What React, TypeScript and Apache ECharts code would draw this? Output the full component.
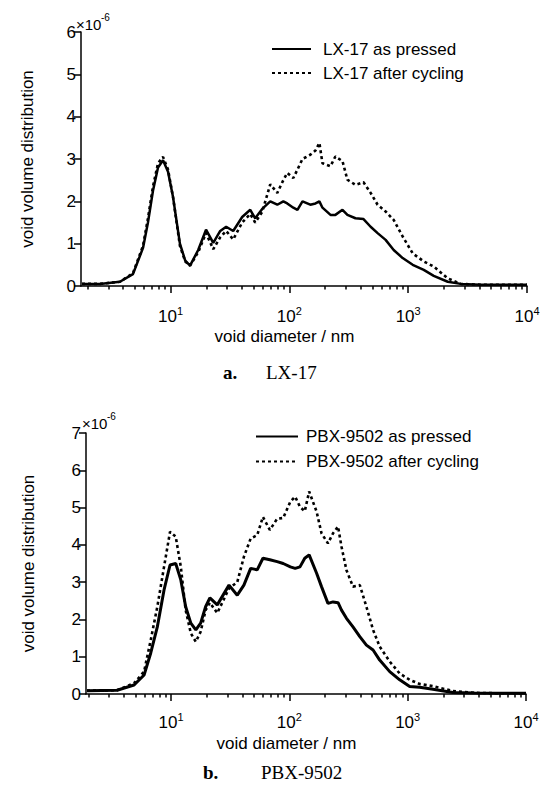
import React, { useEffect, useRef } from "react";
import * as echarts from "echarts";

// ---- data (void diameter in nm, distribution in units of 1e-6) ----
const lxDiameter = [1.8, 2.54, 3.75, 4.83, 5.87, 6.46, 7.12, 7.85, 8.65, 9.53, 10.5, 12.0, 13.3, 14.6, 17.1, 19.9, 22.9, 26.2, 29.4, 33.7, 40.1, 46.9, 51.6, 59.1, 69.1, 79.2, 89, 96, 108, 117, 129, 150, 166, 179, 190, 222, 244, 280, 308, 360, 421, 483, 553, 646, 755, 899, 1092, 1352, 1641, 2153, 2773, 4092, 6397, 10000];
const lxPressed = [0.05, 0.05, 0.1, 0.28, 0.9, 1.5, 2.25, 2.8, 2.97, 2.7, 2.1, 1.0, 0.6, 0.48, 0.85, 1.33, 1.02, 1.3, 1.4, 1.3, 1.63, 1.8, 1.6, 1.82, 2.0, 1.92, 2.0, 1.95, 1.85, 1.8, 2.0, 1.92, 1.95, 2.0, 1.85, 1.68, 1.68, 1.8, 1.68, 1.6, 1.58, 1.4, 1.25, 1.09, 0.85, 0.66, 0.5, 0.38, 0.24, 0.1, 0.05, 0.03, 0.03, 0.03];
const lxCycled = [0.05, 0.05, 0.1, 0.3, 0.95, 1.6, 2.35, 2.9, 3.05, 2.75, 2.1, 0.95, 0.58, 0.48, 0.8, 1.25, 0.87, 1.15, 1.3, 1.1, 1.5, 1.7, 1.5, 1.75, 2.4, 2.2, 2.5, 2.67, 2.55, 2.75, 3.0, 3.1, 3.2, 3.38, 2.9, 2.83, 3.06, 2.95, 2.51, 2.39, 2.45, 2.2, 1.92, 1.76, 1.56, 1.17, 0.77, 0.58, 0.46, 0.18, 0.05, 0.03, 0.03, 0.03];

const pbxDiameter = [1.95, 3.5, 4.87, 5.92, 6.74, 7.66, 8.73, 9.81, 10.96, 12.1, 13.3, 14.7, 16.2, 17.8, 19.6, 21.3, 24.6, 30.9, 36.3, 41.3, 47.1, 53.5, 59.8, 68.4, 78.9, 88.7, 102, 112, 123, 135, 147, 170, 187, 212, 234, 258, 276, 304, 345, 394, 448, 510, 580, 705, 856, 1040, 1262, 1636, 2411, 3673, 5970, 10000];
const pbxPressed = [0.09, 0.1, 0.24, 0.51, 1.1, 1.8, 2.79, 3.46, 3.5, 3.06, 2.34, 1.9, 1.72, 1.9, 2.34, 2.58, 2.39, 2.92, 2.65, 2.92, 3.37, 3.33, 3.64, 3.6, 3.55, 3.5, 3.41, 3.37, 3.41, 3.64, 3.73, 3.24, 2.88, 2.43, 2.47, 2.45, 2.25, 2.03, 1.8, 1.54, 1.31, 1.18, 0.91, 0.6, 0.38, 0.2, 0.18, 0.13, 0.04, 0.03, 0.02, 0.02];
const pbxCycled = [0.09, 0.1, 0.29, 0.6, 1.45, 2.34, 3.41, 4.35, 4.22, 3.41, 2.25, 1.63, 1.4, 1.67, 2.25, 2.45, 2.17, 2.83, 3.0, 3.68, 4.17, 4.26, 4.75, 4.4, 4.7, 4.72, 5.16, 5.29, 5.02, 4.9, 5.43, 4.89, 4.31, 4.04, 4.31, 4.49, 3.95, 3.32, 2.88, 2.92, 2.34, 1.72, 1.27, 0.87, 0.55, 0.38, 0.27, 0.21, 0.08, 0.03, 0.02, 0.02];

const majorTicks = [10, 100, 1000, 10000];
const minorTicks = [2, 3, 4, 5, 6, 7, 8, 9, 20, 30, 40, 50, 60, 70, 80, 90, 200, 300, 400, 500, 600, 700, 800, 900, 2000, 3000, 4000, 5000, 6000, 7000, 8000, 9000];

const lxNames = ["LX-17 as pressed", "LX-17 after cycling"];
const pbxNames = ["PBX-9502 as pressed", "PBX-9502 after cycling"];

const SANS = "'Liberation Sans', Arial, sans-serif";
const SERIF = "'Liberation Serif', 'Times New Roman', serif";

const pairs = (xs: number[], ys: number[]) => xs.map((x, i) => [x, ys[i]]);

export default function App() {
  const ref = useRef<HTMLDivElement>(null);
  useEffect(() => {
    if (!ref.current) return;
    const chart = echarts.init(ref.current, null, { renderer: "svg" });
    const axisLine = { color: "#000", width: 1.5 };

    const majorAxis = (grid: number, min: number, margin: number, gap: number) => ({
      type: "log",
      logBase: 10,
      gridIndex: grid,
      position: "bottom",
      min,
      max: 10000,
      axisLine: { show: true, onZero: false, lineStyle: axisLine },
      axisTick: { show: true, length: 7, customValues: majorTicks, lineStyle: axisLine },
      axisLabel: {
        customValues: majorTicks,
        margin,
        formatter: (v: number) => `{b|10}{s|${Math.round(Math.log10(v))}}`,
        rich: {
          b: { fontSize: 17, fontFamily: SANS, color: "#000", lineHeight: 20, verticalAlign: "bottom" },
          s: { fontSize: 11, fontFamily: SANS, color: "#000", lineHeight: 20, verticalAlign: "top" },
        },
      },
      splitLine: { show: false },
      minorTick: { show: false },
      name: "void diameter / nm",
      nameLocation: "middle",
      nameGap: gap,
      nameTextStyle: { fontSize: 17, fontFamily: SANS, color: "#000", padding: [0, 39, 0, 0] },
    });
    const minorAxis = (grid: number, min: number) => ({
      type: "log",
      logBase: 10,
      gridIndex: grid,
      position: "bottom",
      min,
      max: 10000,
      axisLine: { show: false, onZero: false },
      axisTick: { show: true, length: 3.5, customValues: minorTicks, lineStyle: axisLine },
      axisLabel: { show: false },
      splitLine: { show: false },
    });
    const yAxis = (grid: number, max: number, gap: number) => ({
      type: "value",
      gridIndex: grid,
      min: 0,
      max,
      interval: 1,
      axisLine: { show: true, lineStyle: axisLine },
      axisTick: { show: true, length: 7, lineStyle: axisLine },
      axisLabel: { color: "#000", fontSize: 17, fontFamily: SANS, margin: 5 },
      splitLine: { show: false },
      name: "void volume distribution",
      nameLocation: "middle",
      nameGap: gap,
      nameTextStyle: { fontSize: 17, fontFamily: SANS, color: "#000" },
    });
    const solid = (name: string, xi: number, yi: number, data: number[][], w: number) => ({
      type: "line",
      name,
      xAxisIndex: xi,
      yAxisIndex: yi,
      data,
      symbol: "none",
      showSymbol: false,
      lineStyle: { color: "#000", width: w, type: "solid" },
      itemStyle: { color: "#000" },
    });
    const dotted = (name: string, xi: number, yi: number, data: number[][]) => ({
      type: "line",
      name,
      xAxisIndex: xi,
      yAxisIndex: yi,
      data,
      symbol: "none",
      showSymbol: false,
      lineStyle: { color: "#000", width: 2.6, type: [3, 3] },
      itemStyle: { color: "#000" },
    });
    const legend = (names: string[], left: number, top: number, w: number, lh: number, pad: number) => ({
      data: names,
      orient: "vertical",
      left,
      top,
      itemWidth: w,
      itemHeight: 2,
      itemGap: 0,
      padding: 0,
      selectedMode: false,
      itemStyle: { opacity: 0 },
      textStyle: { fontSize: 17, fontFamily: SANS, color: "#000", lineHeight: lh, padding: [0, 0, 0, pad] },
    });
    const txt = (text: string, x: number, y: number, size: number, family: string, weight = "normal") => ({
      type: "text",
      x,
      y,
      silent: true,
      style: { text, fontSize: size, fontFamily: family, fontWeight: weight, fill: "#000", align: "left", verticalAlign: "middle" },
    });

    chart.setOption({
      animation: false,
      backgroundColor: "#fff",
      grid: [
        { left: 81, right: 21, top: 32, height: 254 },
        { left: 86, right: 22, top: 433, height: 261 },
      ],
      xAxis: [majorAxis(0, 1.765, 19, 42), minorAxis(0, 1.765), majorAxis(1, 1.912, 17, 41), minorAxis(1, 1.912)],
      yAxis: [yAxis(0, 6, 45), yAxis(1, 7, 49)],
      legend: [legend(lxNames, 271, 37, 39, 24, 7), legend(pbxNames, 255, 424, 42, 25, 3)],
      series: [
        solid(lxNames[0], 0, 0, pairs(lxDiameter, lxPressed), 2.5),
        dotted(lxNames[1], 0, 0, pairs(lxDiameter, lxCycled)),
        solid(pbxNames[0], 2, 1, pairs(pbxDiameter, pbxPressed), 3),
        dotted(pbxNames[1], 2, 1, pairs(pbxDiameter, pbxCycled)),
      ],
      graphic: [
        txt("×10", 76, 24, 15, SANS),
        txt("-6", 101, 17, 10, SANS),
        txt("×10", 82, 423, 15, SANS),
        txt("-6", 107, 416, 10, SANS),
        txt("a.", 223, 372, 19, SERIF, "bold"),
        txt("LX-17", 266, 372, 19, SERIF),
        txt("b.", 203, 772, 19, SERIF, "bold"),
        txt("PBX-9502", 261, 772, 19, SERIF),
      ],
    });
    return () => chart.dispose();
  }, []);
  return (
    <div
      ref={ref}
      style={{ position: "absolute", left: 0, top: 0, width: 548, height: 785, background: "#fff" }}
    />
  );
}
